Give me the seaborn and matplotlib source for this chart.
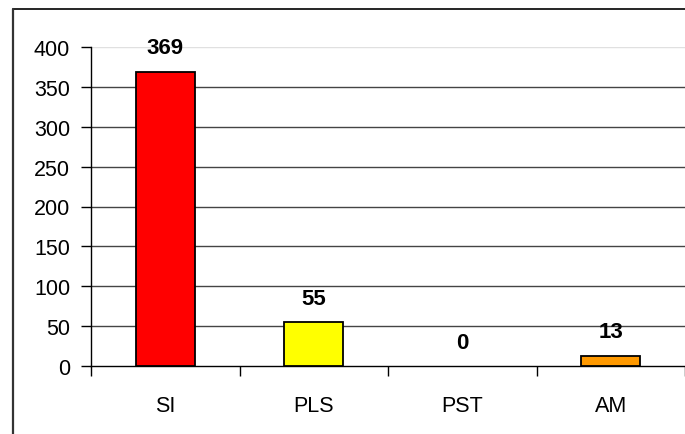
import matplotlib
matplotlib.use("Agg")
import matplotlib.pyplot as plt
import seaborn as sns
import pandas as pd
from matplotlib.lines import Line2D

categories = ["SI", "PLS", "PST", "AM"]
values = [369, 55, 0, 13]
colors = ["#FF0000", "#FFFF00", "#FFFF99", "#FF9900"]
yticks = [0, 50, 100, 150, 200, 250, 300, 350, 400]

sns.set_theme(style="white")
plt.rcParams["font.family"] = ["Liberation Sans", "DejaVu Sans"]

df = pd.DataFrame({"cat": categories, "val": values})

W, H = 685, 435
fig = plt.figure(figsize=(W / 100, H / 100), dpi=100)
ax = fig.add_axes([91 / W, 1 - 367 / H, (W - 91) / W, (367 - 48) / H])

sns.barplot(data=df, x="cat", y="val", hue="cat", palette=colors, legend=False,
            saturation=1, width=0.4, edgecolor="black", linewidth=1.3, ax=ax, zorder=3)
for p in ax.patches:
    if p.get_height() == 0:
        p.set_visible(False)

ax.set_xlim(-0.5, len(categories) - 0.5)
ax.set_ylim(0, 400)
ax.set_yticks(yticks)
ax.set_yticklabels([str(t) for t in yticks], fontsize=15.5, color="black")
ax.set_xlabel("")
ax.set_ylabel("")

# gridlines
for t in yticks[1:]:
    col = "#E0E0E0" if t == 400 else "#444444"
    ax.axhline(t, color=col, linewidth=1.0, zorder=1)

# category labels and boundary ticks
ax.set_xticks(range(len(categories)))
ax.set_xticklabels(categories, fontsize=15.5, color="black")
ax.tick_params(axis="x", which="major", length=0, pad=21)
ax.set_xticks([i - 0.5 for i in range(len(categories) + 1)], minor=True)
ax.tick_params(axis="x", which="minor", length=7, width=1, color="black", direction="out", bottom=True)
ax.tick_params(axis="y", which="major", length=7, width=1, color="black", direction="out", left=True, pad=8)

for side in ["top", "right"]:
    ax.spines[side].set_visible(False)
for side in ["left", "bottom"]:
    ax.spines[side].set_visible(True)
    ax.spines[side].set_color("black")
    ax.spines[side].set_linewidth(1.0)

# value labels
for i, v in enumerate(values):
    ax.text(i, v + 30, str(v), ha="center", va="center", fontsize=16,
            fontweight="bold", color="black", zorder=5)

# outer frame (cropped chart border)
fig.add_artist(Line2D([13 / W, 1.0], [1 - 10 / H, 1 - 10 / H], transform=fig.transFigure,
                      color="black", linewidth=1.2))
fig.add_artist(Line2D([13 / W, 13 / W], [1 - 10 / H, 0.0], transform=fig.transFigure,
                      color="#333333", linewidth=1.6))

fig.savefig("out.png", dpi=100, facecolor="white")
